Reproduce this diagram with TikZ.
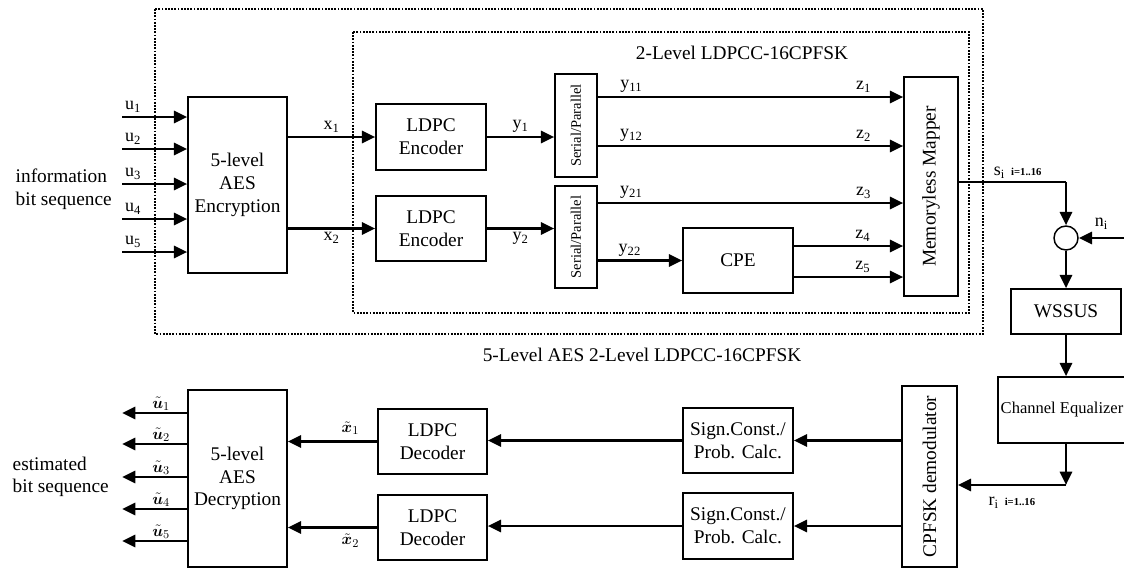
\documentclass[tikz,border=0pt]{standalone}
\usepackage{fontspec}
\setmainfont{Liberation Serif}
\usepackage{graphicx}
\usepackage{bm}
\usetikzlibrary{arrows.meta}

\begin{document}
\begin{tikzpicture}[x=0.75pt, y=-0.75pt,
    font=\fontsize{14.5}{17}\selectfont,
    box/.style={draw, line width=1.1pt, align=center, inner sep=0pt},
    sz/.style 2 args={minimum width=#1*0.75pt, minimum height=#2*0.75pt},
    arr/.style={line width=2.2pt, -{Triangle[length=10pt, width=9pt]}},
    frame/.style={line width=1.3pt, dash pattern=on 1.3pt off 1.1pt},
    lbl/.style={font=\fontsize{13.5}{15}\selectfont, inner sep=2pt},
    tlbl/.style={inner sep=0.8pt, font=\fontsize{12.5}{13}\selectfont}]
    \useasboundingbox (0,0) rectangle (1124,571);
    % dotted frames and titles
    \draw[frame] (155,9) rectangle (983,334);
    \draw[frame] (353,32) rectangle (969,313);
    \node (ttlin) at (742,53) {2-Level LDPCC-16CPFSK};
    \node (ttlout) at (642,355) {5-Level AES 2-Level LDPCC-16CPFSK};
    % transmitter
    \node[box, sz={99}{176}] (enc) at (237.5,185) {5-level\\AES\\Encryption};
    \node[box, sz={110}{66}] (ldpc1) at (431,137) {LDPC\\Encoder};
    \node[box, sz={110}{65}] (ldpc2) at (431,228.5) {LDPC\\Encoder};
    \node[box, sz={42}{103}] (sp1) at (576,125.5) {\rotatebox{90}{\fontsize{10.9}{12}\selectfont Serial/Parallel}};
    \node[box, sz={42}{102}] (sp2) at (576,237) {\rotatebox{90}{\fontsize{10.9}{12}\selectfont Serial/Parallel}};
    \node[box, sz={110}{65}] (cpe) at (738,260.5) {CPE};
    \node[box, sz={54}{219}] (mapper) at (931,186.5) {\rotatebox{90}{Memoryless Mapper}};
    % channel
    \node[draw, circle, line width=1.1pt, minimum size=24*0.75pt, inner sep=0pt] (add) at (1066,238) {};
    \node[box, sz={110}{45}] (wssus) at (1066,311.5) {WSSUS};
    \node[box, sz={128}{66}, font=\fontsize{12.4}{15}\selectfont] (eq) at (1062,410) {Channel Equalizer};
    % receiver
    \node[box, sz={55}{181}] (demod) at (929.5,476.5) {\rotatebox{90}{CPFSK demodulator}};
    \node[box, sz={110}{65}] (sc1) at (738,440.5) {Sign.Const./\\Prob. Calc.};
    \node[box, sz={110}{66}] (sc2) at (738,526) {Sign.Const./\\Prob. Calc.};
    \node[box, sz={109}{65}] (dec1) at (432.5,441.5) {LDPC\\Decoder};
    \node[box, sz={109}{65}] (dec2) at (432.5,527.5) {LDPC\\Decoder};
    \node[box, sz={99}{177}] (dec) at (237.5,478.5) {5-level\\AES\\Decryption};
    % input and output bits
    \node[align=left, anchor=west] (info) at (11,189) {information\\bit sequence};
    \node[align=left, anchor=west] (est) at (8,477) {estimated\\bit sequence};
    \foreach \i/\yy in {1/117, 2/149, 3/184, 4/219, 5/252} {
        \coordinate (u\i) at (122,\yy);
        \draw[arr] (u\i) -- (u\i -| enc.west) node[lbl, pos=0.17, above] {u\textsubscript{\i}};
    }
    \foreach \i/\yy in {1/413, 2/444, 3/477, 4/509, 5/541} {
        \coordinate (v\i) at (122,\yy);
        \draw[arr] (v\i -| dec.west) -- (v\i) node[tlbl, pos=0.4, above] {$\tilde{\bm{u}}_{\i}$};
    }
    % encoder branch
    \draw[arr] (enc.east |- ldpc1) -- (ldpc1.west) node[lbl, midway, above] {x\textsubscript{1}};
    \draw[arr] (enc.east |- ldpc2) -- (ldpc2.west) node[lbl, midway, below] {x\textsubscript{2}};
    \draw[arr] (ldpc1.east) -- (ldpc1.east -| sp1.west) node[lbl, midway, above] {y\textsubscript{1}};
    \draw[arr] (ldpc2.east) -- (ldpc2.east -| sp2.west) node[lbl, midway, below] {y\textsubscript{2}};
    \coordinate (r1) at (0,97);
    \coordinate (r2) at (0,146);
    \coordinate (r3) at (0,203);
    \coordinate (r4) at (0,246);
    \coordinate (r5) at (0,277);
    \draw[arr] (sp1.east |- r1) -- (mapper.west |- r1)
        node[lbl, pos=0.11, above] {y\textsubscript{11}} node[lbl, pos=0.87, above] {z\textsubscript{1}};
    \draw[arr] (sp1.east |- r2) -- (mapper.west |- r2)
        node[lbl, pos=0.11, above] {y\textsubscript{12}} node[lbl, pos=0.87, above] {z\textsubscript{2}};
    \draw[arr] (sp2.east |- r3) -- (mapper.west |- r3)
        node[lbl, pos=0.11, above] {y\textsubscript{21}} node[lbl, pos=0.87, above] {z\textsubscript{3}};
    \draw[arr] (sp2.east |- cpe.west) -- (cpe.west) node[lbl, pos=0.38, above] {y\textsubscript{22}};
    \draw[arr] (cpe.east |- r4) -- (mapper.west |- r4) node[lbl, pos=0.63, above] {z\textsubscript{4}};
    \draw[arr] (cpe.east |- r5) -- (mapper.west |- r5) node[lbl, pos=0.63, above] {z\textsubscript{5}};
    % channel path
    \coordinate (scorner) at (add |- 0,182);
    \draw[line width=1pt] (mapper.east |- scorner) -- (scorner)
        node[lbl, pos=0.55, above] {s\textsubscript{i}\,\,{\fontsize{8}{9}\selectfont\bfseries i=1..16}};
    \draw[arr] (scorner) -- (add.north);
    \coordinate (nin) at (1124,238);
    \draw[arr] (nin) -- (add.east) node[lbl, midway, above=3pt] {n\textsubscript{i}};
    \draw[arr] (add.south) -- (wssus.north);
    \draw[arr] (wssus.south) -- (wssus.south |- eq.north);
    \coordinate (rcorner) at (wssus.south |- 0,485);
    \draw[arr] (wssus.south |- eq.south) -- (rcorner);
    \draw[arr] (rcorner) -- (rcorner -| demod.east)
        node[lbl, midway, below=6pt] {r\textsubscript{i}\,\,{\fontsize{8}{9}\selectfont\bfseries i=1..16}};
    % decoder branch
    \draw[arr] (demod.west |- sc1) -- (sc1.east);
    \draw[arr] (demod.west |- sc2) -- (sc2.east);
    \draw[arr] (sc1.west) -- (sc1.west -| dec1.east);
    \draw[arr] (sc2.west) -- (sc2.west -| dec2.east);
    \draw[arr] (dec1.west) -- (dec1.west -| dec.east) node[tlbl, pos=0.3, above=3pt] {$\tilde{\bm{x}}_{1}$};
    \draw[arr] (dec2.west) -- (dec2.west -| dec.east) node[tlbl, pos=0.3, below=3pt] {$\tilde{\bm{x}}_{2}$};
\end{tikzpicture}
\end{document}
